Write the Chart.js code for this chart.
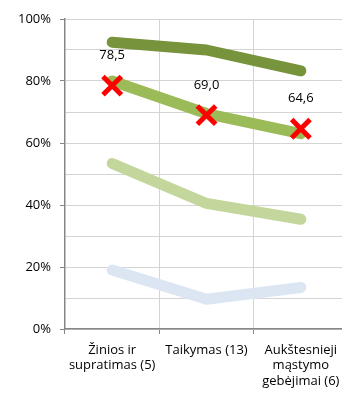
<!DOCTYPE html>
<html>
<head>
<meta charset="utf-8">
<script src="https://cdn.jsdelivr.net/npm/chart.js@4/dist/chart.umd.min.js"></script>
<style>
  html, body { margin: 0; padding: 0; background: #fff; overflow: hidden; }
  canvas { display: block; }
</style>
</head>
<body>
<canvas id="chart" width="360" height="397"></canvas>
<script>
// kategorijos (x ašis)
const categories = [
  ['Žinios ir', 'supratimas (5)'],
  'Taikymas (13)',
  ['Aukštesnieji', 'mąstymo', 'gebėjimai (6)']
];

// linijos, procentais
const topLevel   = [92.5, 90.0, 83.3];
const upperLevel = [80.0, 69.5, 63.0];
const midLevel   = [53.4, 40.5, 35.4];
const lowLevel   = [19.0, 9.6, 13.4];

// raudoni kryžiukai su reikšmėmis
const crossValues = [78.5, 69.0, 64.6];

const lineStyle = {
  type: 'line',
  borderWidth: 11,
  borderCapStyle: 'round',
  borderJoinStyle: 'round',
  pointRadius: 0,
  tension: 0,
  fill: false
};

// užrašai virš kryžiukų ("78,5")
const crossLabels = {
  id: 'crossLabels',
  afterDatasetsDraw(chart) {
    const meta = chart.getDatasetMeta(4);
    const ctx = chart.ctx;
    ctx.save();
    ctx.font = '13px "Open Sans", sans-serif';
    ctx.fillStyle = '#000';
    ctx.textAlign = 'center';
    ctx.textBaseline = 'middle';
    meta.data.forEach((pt, i) => {
      ctx.fillText(crossValues[i].toFixed(1).replace('.', ','), pt.x, pt.y - 30);
    });
    ctx.restore();
  }
};

new Chart(document.getElementById('chart'), {
  data: {
    labels: categories,
    datasets: [
      { ...lineStyle, data: topLevel, borderColor: '#77933C', order: 4 },
      { ...lineStyle, data: upperLevel, borderColor: '#9BBB59', order: 3 },
      { ...lineStyle, data: midLevel, borderColor: '#C3D69B', order: 2 },
      { ...lineStyle, data: lowLevel, borderColor: '#DCE6F2', order: 1 },
      {
        type: 'line',
        data: crossValues,
        showLine: false,
        pointStyle: 'crossRot',
        pointRadius: 13,
        pointBorderWidth: 5,
        pointBorderColor: '#FF0000',
        pointBackgroundColor: '#FF0000',
        order: 0
      }
    ]
  },
  options: {
    responsive: false,
    animation: false,
    layout: { autoPadding: false, padding: { top: 19, right: 12, left: 0, bottom: 0 } },
    plugins: {
      legend: { display: false },
      tooltip: { enabled: false }
    },
    scales: {
      x: {
        offset: true,
        grid: { offset: true, color: '#D4D4D4', tickColor: '#868686', tickLength: 5 },
        border: { color: '#868686', width: 1.5 },
        ticks: {
          color: '#000',
          font: { family: '"Open Sans", sans-serif', size: 13 },
          padding: 8,
          maxRotation: 0,
          autoSkip: false
        },
        afterFit(scale) { scale.height = 68; }
      },
      y: {
        min: 0,
        max: 100,
        grid: {
          color: '#D4D4D4',
          tickColor: c => (c.tick && c.tick.value % 20 === 0 ? '#868686' : 'rgba(0,0,0,0)'),
          tickLength: 5
        },
        border: { color: '#868686', width: 1.5 },
        ticks: {
          stepSize: 10,
          color: '#000',
          font: { family: '"Open Sans", sans-serif', size: 13 },
          padding: 9,
          callback: v => (v % 20 === 0 ? v + '%' : '')
        },
        afterFit(scale) { scale.width = 65; }
      }
    }
  },
  plugins: [crossLabels]
});
</script>
</body>
</html>
